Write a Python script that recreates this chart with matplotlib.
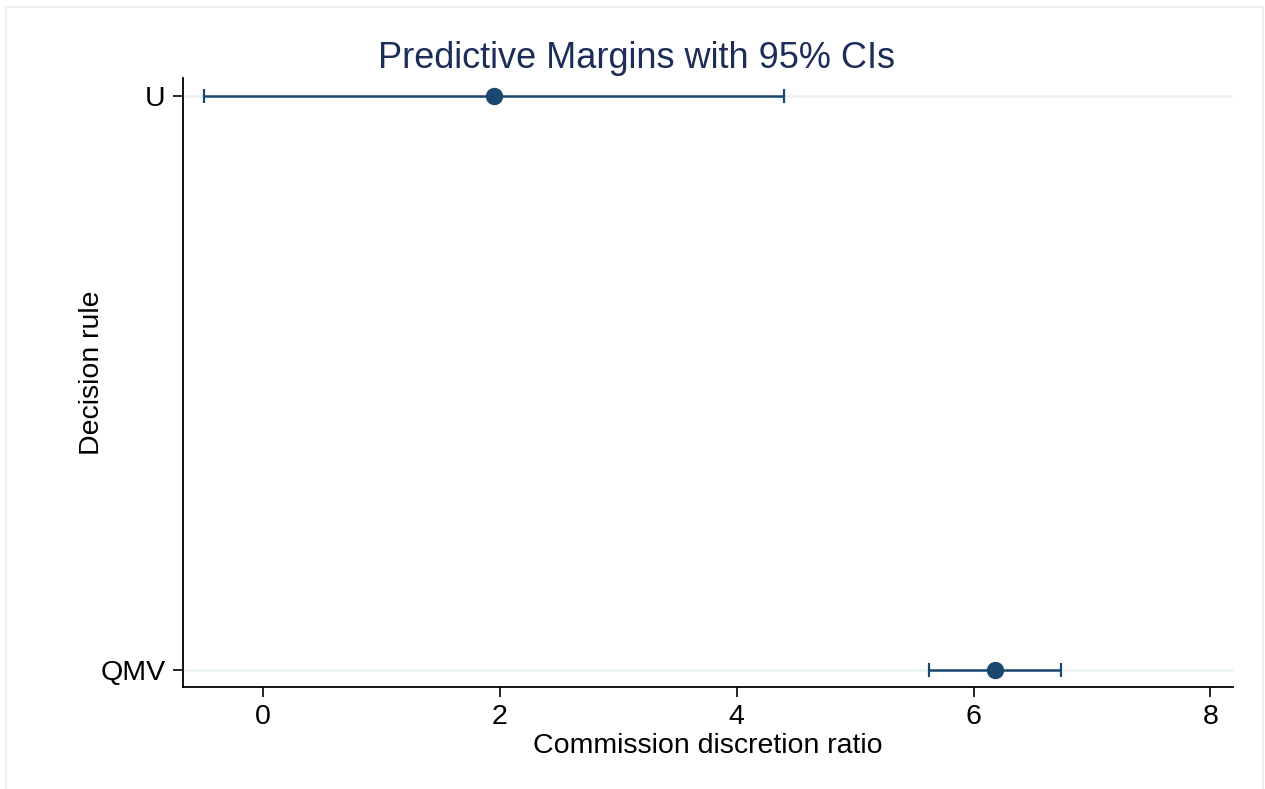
import numpy as np
import matplotlib.pyplot as plt
from matplotlib.patches import Rectangle

plt.rcParams['font.family'] = ['Liberation Sans', 'DejaVu Sans']

# predictive margins by decision rule
rules = ["QMV", "U"]
margin = [6.18, 1.95]
ci_low = [5.62, -0.50]
ci_high = [6.74, 4.40]

navy = "#1a476f"

fig = plt.figure(figsize=(12.65, 7.89), dpi=100)
ax = fig.add_axes([183/1265, 1 - 687/789, (1233 - 183)/1265, (687 - 78)/789])

ypos = np.arange(len(rules))
m = np.array(margin)
err = [m - np.array(ci_low), np.array(ci_high) - m]

for y in ypos:
    ax.axhline(y, color="#eaf2f3", lw=1.8, zorder=0)

ax.errorbar(m, ypos, xerr=err, fmt="o", color=navy, ecolor=navy,
            elinewidth=1.8, capsize=5, capthick=1.6, markersize=11.5, zorder=3)

ax.set_xlim(-0.675, 8.19)
ax.set_ylim(-0.0296, 1.031)
ax.set_xticks([0, 2, 4, 6, 8])
ax.set_yticks(ypos)
ax.set_yticklabels(rules)
ax.tick_params(axis="both", labelsize=20.5, length=7.5, width=1.2, pad=5)

for s in ["top", "right"]:
    ax.spines[s].set_visible(False)
for s in ["left", "bottom"]:
    ax.spines[s].set_linewidth(1.3)

ax.set_xlabel("Commission discretion ratio", fontsize=20.5, labelpad=2)
ax.set_ylabel("Decision rule", fontsize=20.5)
ax.yaxis.set_label_coords((105 - 183)/1050, 1 - (373 - 78)/609)
fig.text(636/1265, 1 - 59/789, "Predictive Margins with 95% CIs",
         fontsize=26, color="#1c2d5a", ha="center", va="center")

fig.patches.append(Rectangle((6/1265, -0.02), 1257/1265, 1 - 7/789 + 0.02,
                             transform=fig.transFigure, fill=False,
                             edgecolor="#e6eeee", lw=1.2))

fig.savefig("out.png", dpi=100)
